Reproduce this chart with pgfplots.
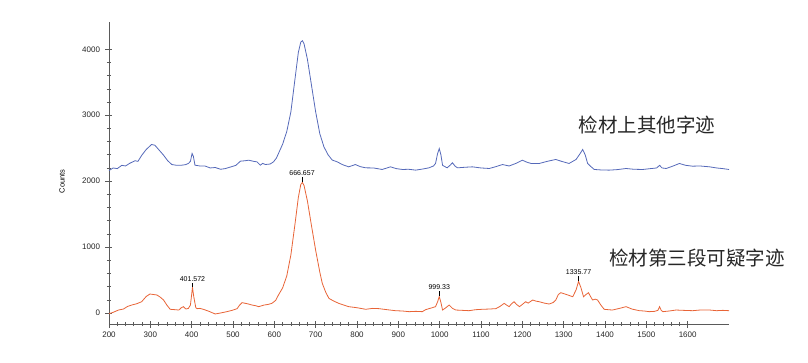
\documentclass[border=0pt]{standalone}
\usepackage{pgfplots}
\pgfplotsset{compat=1.18}
\usepackage{pgfplotstable}
\usepackage{fontspec}
\setmainfont{Liberation Sans}
\newfontfamily\cjk{Noto Sans CJK SC}
\definecolor{blueline}{RGB}{85,105,185}
\definecolor{redline}{RGB}{232,100,55}
\definecolor{axgray}{RGB}{90,90,90}
\pgfplotstableread{
x y
200 2160
210 2200
220 2190
231 2240
240 2230
250 2270
263 2310
270 2300
279 2390
290 2480
303 2556
311 2545
320 2480
332 2394
342 2310
352 2252
364 2240
376 2242
385 2250
392 2268
397 2300
401 2420
404 2380
408 2242
420 2230
432 2230
445 2200
457 2207
470 2180
481 2190
497 2220
507 2240
518 2303
530 2310
538 2318
550 2300
558 2293
566 2242
572 2270
578 2252
590 2260
598 2293
605 2350
610 2419
620 2560
630 2750
640 3050
650 3550
658 3950
664 4110
668 4130
672 4080
680 3850
690 3450
700 3050
710 2720
720 2520
730 2400
740 2320
752 2293
765 2250
780 2217
796 2252
808 2220
821 2202
840 2200
861 2177
881 2217
895 2190
910 2177
925 2180
942 2167
960 2185
974 2202
985 2230
990 2268
995 2420
999 2495
1003 2400
1007 2240
1018 2202
1025 2240
1031 2278
1037 2230
1043 2202
1060 2210
1079 2217
1100 2200
1120 2192
1136 2220
1152 2252
1168 2230
1184 2268
1200 2318
1210 2290
1221 2268
1241 2268
1260 2300
1281 2329
1295 2300
1313 2268
1330 2329
1340 2420
1346 2480
1352 2400
1358 2268
1366 2220
1374 2177
1390 2170
1410 2167
1430 2175
1451 2192
1470 2180
1491 2177
1510 2190
1525 2200
1532 2240
1538 2200
1548 2192
1565 2230
1580 2268
1595 2240
1612 2227
1630 2230
1653 2217
1670 2200
1685 2190
1700 2177
}\bluedata
\pgfplotstableread{
x y
200 -10
210 10
223 45
235 60
245 100
255 121
267 140
279 171
290 250
299 288
308 280
316 273
324 240
332 197
340 120
348 56
360 50
369 45
375 80
380 96
386 60
392 70
397 120
402 390
405 250
410 80
413 66
420 70
428 56
440 30
457 -15
470 0
485 20
498 40
510 66
516 120
522 157
535 140
546 121
555 110
562 96
575 120
585 130
594 146
603 190
610 273
620 380
630 560
640 880
650 1350
658 1750
664 1950
668 1980
672 1930
680 1700
690 1320
700 950
710 620
716 450
724 320
732 222
744 180
756 146
768 120
780 96
800 80
821 56
838 70
853 66
873 50
893 35
910 30
926 20
942 25
958 20
966 50
974 66
982 80
990 96
995 170
999 250
1003 160
1007 45
1015 80
1023 121
1031 70
1039 45
1055 40
1071 35
1087 50
1103 56
1120 60
1136 66
1146 100
1156 146
1162 120
1168 96
1174 140
1180 171
1186 130
1193 96
1200 130
1208 171
1214 150
1225 197
1233 180
1241 171
1253 150
1265 136
1275 160
1281 197
1287 280
1293 308
1302 290
1310 273
1316 260
1322 247
1330 350
1336 480
1342 380
1348 247
1354 280
1360 308
1365 250
1370 197
1376 210
1382 197
1390 120
1398 56
1408 50
1418 45
1435 70
1451 96
1465 60
1483 35
1495 30
1507 20
1520 25
1528 40
1532 96
1536 40
1540 20
1555 30
1572 45
1590 40
1612 35
1630 45
1653 45
1670 35
1685 40
1700 35
}\reddata
\begin{document}
\begin{tikzpicture}
\useasboundingbox (-109pt,-38pt) rectangle (699pt,324pt);
\begin{axis}[
  scale only axis,
  width=620pt, height=302pt,
  xmin=200, xmax=1700,
  ymin=-167, ymax=4414,
  axis x line=bottom, axis y line=left,
  axis line style={-, axgray, line width=0.8pt},
  xtick={200,300,...,1600},
  ytick={0,1000,2000,3000,4000},
  minor x tick num=4,
  minor y tick num=4,
  tick align=center,
  major tick length=7pt,
  minor tick length=4pt,
  tick style={axgray, line width=0.6pt},
  scaled ticks=false,
  /pgf/number format/.cd, 1000 sep={}, assume math mode=true,
  /pgfplots/.cd,
  tick label style={font=\fontsize{8}{9}\selectfont, text=black!85},
  xticklabel style={yshift=-1pt},
  yticklabel style={xshift=-2pt},
  clip=false,
]
\addplot[blueline, line width=0.8pt] table[x=x,y=y] {\bluedata};
\addplot[redline, line width=0.8pt] table[x=x,y=y] {\reddata};
\node[rotate=90, font=\fontsize{7.5}{9}\selectfont] at (rel axis cs:-0.0758,0.473) {Counts};
\draw[black, line width=0.6pt] (axis cs:667,1990) -- (axis cs:667,2060) node[above, inner sep=1pt, font=\fontsize{7}{8}\selectfont] {666.657};
\draw[black, line width=0.6pt] (axis cs:402,400) -- (axis cs:402,450) node[above, inner sep=1pt, font=\fontsize{7}{8}\selectfont] {401.572};
\draw[black, line width=0.6pt] (axis cs:999,255) -- (axis cs:999,330) node[above, inner sep=1pt, font=\fontsize{7}{8}\selectfont] {999.33};
\draw[black, line width=0.6pt] (axis cs:1336,485) -- (axis cs:1336,560) node[above, inner sep=1pt, font=\fontsize{7}{8}\selectfont] {1335.77};
\node[font=\cjk\fontsize{19.5}{22}\selectfont, text=black!85] at (axis cs:1502,2848) {检材上其他字迹};
\node[font=\cjk\fontsize{19.5}{22}\selectfont, text=black!85] at (axis cs:1622,833) {检材第三段可疑字迹};
\end{axis}
\end{tikzpicture}
\end{document}
